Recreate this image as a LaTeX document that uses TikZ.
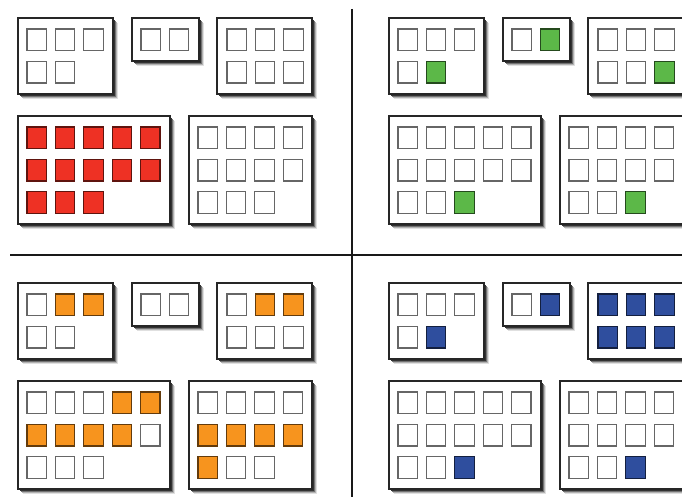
\documentclass[tikz,border=0pt]{standalone}
\usepackage{tikz}
\definecolor{cw}{HTML}{FFFFFF}
\definecolor{cr}{HTML}{EE3124}
\definecolor{cg}{HTML}{5CB848}
\definecolor{co}{HTML}{F7941E}
\definecolor{cb}{HTML}{2F4E9E}
\tikzset{
  panelbox/.style={draw=black!85, line width=1.3pt, fill=white, inner sep=0pt, outer sep=0pt, anchor=north west},
  cell/.style={line width=1.1pt, inner sep=0pt, outer sep=0pt, minimum width=19.4pt, minimum height=21.7pt, anchor=north west},
  divider/.style={line width=2pt, black!90}
}
% #1 name, #2 x, #3 y, #4 width, #5 height
\newcommand\panel[5]{%
  \foreach \o/\s in {5/12,4/30,3/55,2/80}{\fill[black!\s] ({#2+\o},{#3+\o}) rectangle ++(#4,#5);}
  \node[panelbox, minimum width=#4pt, minimum height=#5pt] (#1) at ({#2},{#3}) {};
}
% #1 name, #2 x0, #3 y0, #4 columns, #5 list of colours
\newcommand\cellgrid[5]{%
  \foreach \f [count=\i from 0] in {#5}{%
    \pgfmathtruncatemacro\cc{mod(\i,#4)}%
    \pgfmathtruncatemacro\rr{div(\i,#4)}%
    \node[cell, fill=\f, draw=\f!40!black] (#1-\i) at ({#2+28.4*\cc},{#3+32.3*\rr}) {};
  }
}
% #1 id, #2 dx, #3 dy, #4..#8 colour lists of boxes A..E
\newcommand\drawquadrant[8]{%
  \panel{#1A}{18+#2}{18+#3}{95}{76}
  \cellgrid{#1A}{27+#2}{29+#3}{3}{#4}
  \panel{#1B}{132+#2}{18+#3}{67}{43}
  \cellgrid{#1B}{141+#2}{29+#3}{2}{#5}
  \panel{#1C}{217+#2}{18+#3}{95}{76}
  \cellgrid{#1C}{227+#2}{29+#3}{3}{#6}
  \panel{#1D}{18+#2}{116+#3}{152}{108}
  \cellgrid{#1D}{27+#2}{127+#3}{5}{#7}
  \panel{#1E}{189+#2}{116+#3}{123}{108}
  \cellgrid{#1E}{198+#2}{127+#3}{4}{#8}
}
\begin{document}
\begin{tikzpicture}[x=1pt,y=-1pt]
\useasboundingbox (0,0) rectangle (682,497);
\clip (0,0) rectangle (682,497);
\fill[white] (0,0) rectangle (682,497);
\drawquadrant{q1}{0}{0}
  {cw,cw,cw,cw,cw}
  {cw,cw}
  {cw,cw,cw,cw,cw,cw}
  {cr,cr,cr,cr,cr,cr,cr,cr,cr,cr,cr,cr,cr}
  {cw,cw,cw,cw,cw,cw,cw,cw,cw,cw,cw}
\drawquadrant{q2}{371}{0}
  {cw,cw,cw,cw,cg}
  {cw,cg}
  {cw,cw,cw,cw,cw,cg}
  {cw,cw,cw,cw,cw,cw,cw,cw,cw,cw,cw,cw,cg}
  {cw,cw,cw,cw,cw,cw,cw,cw,cw,cw,cg}
\drawquadrant{q3}{0}{265}
  {cw,co,co,cw,cw}
  {cw,cw}
  {cw,co,co,cw,cw,cw}
  {cw,cw,cw,co,co,co,co,co,co,cw,cw,cw,cw}
  {cw,cw,cw,cw,co,co,co,co,co,cw,cw}
\drawquadrant{q4}{371}{265}
  {cw,cw,cw,cw,cb}
  {cw,cb}
  {cb,cb,cb,cb,cb,cb}
  {cw,cw,cw,cw,cw,cw,cw,cw,cw,cw,cw,cw,cb}
  {cw,cw,cw,cw,cw,cw,cw,cw,cw,cw,cb}
\coordinate (vt) at (352,9);
\coordinate (vb) at (352,497);
\coordinate (hl) at (10,255);
\coordinate (hr) at (682,255);
\draw[divider] (vt) -- (vb);
\draw[divider] (hl) -- (hr);
\end{tikzpicture}
\end{document}
